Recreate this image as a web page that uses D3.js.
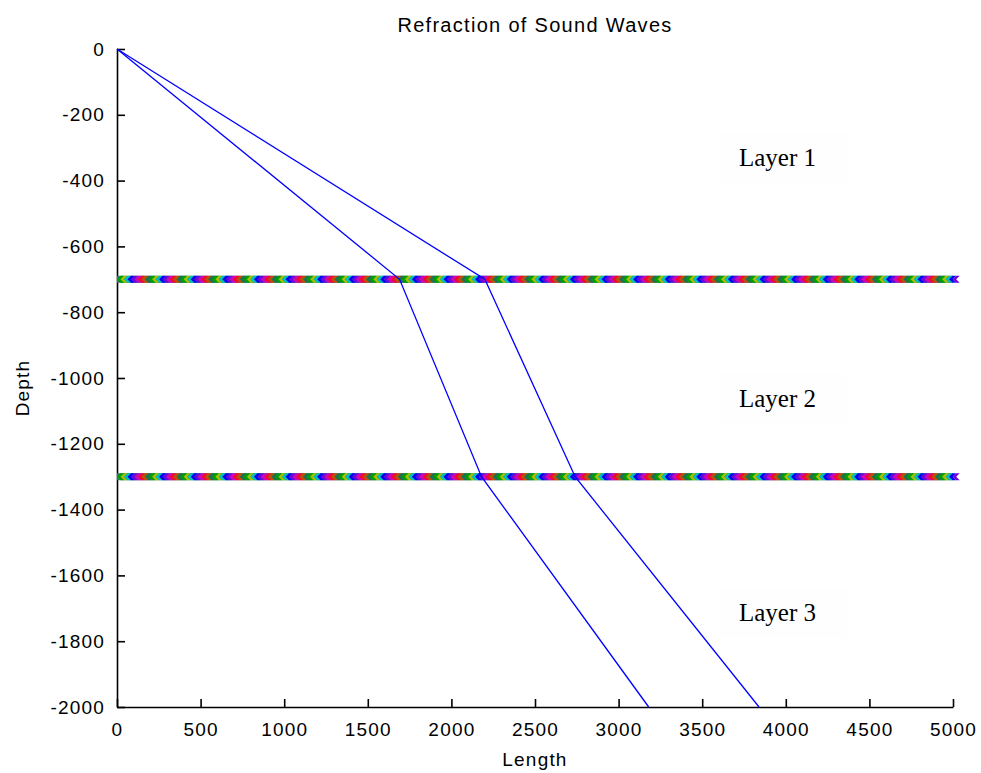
<!DOCTYPE html>
<html>
<head>
<meta charset="utf-8">
<script src="https://cdn.jsdelivr.net/npm/d3@7"></script>
<style>
  html, body { margin: 0; padding: 0; background: #fff; }
  svg { display: block; }
  .tick text { font-family: "Liberation Sans", Arial, sans-serif; font-size: 19px; letter-spacing: 1.2px; fill: #000; }
</style>
</head>
<body>
<svg id="chart" width="981" height="773"></svg>
<script>
// ---- data ----
const title = "Refraction of Sound Waves";
const xLabel = "Length";
const yLabel = "Depth";
const xTicks = [0, 500, 1000, 1500, 2000, 2500, 3000, 3500, 4000, 4500, 5000];
const yTicks = [0, -200, -400, -600, -800, -1000, -1200, -1400, -1600, -1800, -2000];
const layerDepths = [-700, -1300];
// ray paths: [length, depth]
const ray1 = [[0, 0], [2200, -700], [2740, -1300], [3840, -2000]];
const ray2 = [[0, 0], [1690, -700], [2180, -1300], [3180, -2000]];
const layerNames = ["Layer 1", "Layer 2", "Layer 3"];
const layerNameDepths = [-330, -1063, -1715];
const layerNameX = 3720;
const stripeColors = ["#00a000", "#a8c000", "#00c0c0", "#0000ff", "#7000e0", "#d000c0", "#ff0030", "#c05000", "#1f7050"];

// ---- layout ----
const svg = d3.select("#chart");
const x = d3.scaleLinear().domain([0, 5000]).range([117, 953]);
const y = d3.scaleLinear().domain([0, -2000]).range([49, 707]);
const font = '"Liberation Sans", Arial, sans-serif';

// layer label boxes (faint)
layerNames.forEach((name, i) => {
  const cy = y(layerNameDepths[i]);
  svg.append("rect").attr("x", 720).attr("y", cy - 25).attr("width", 127).attr("height", 50)
    .attr("fill", "#fefefe");
  svg.append("text").attr("x", x(layerNameX)).attr("y", cy + 8)
    .attr("font-family", '"Liberation Serif", "Times New Roman", serif')
    .attr("font-size", 25).attr("fill", "#000").text(name);
});

// axes
const xAxis = d3.axisBottom(x).tickValues(xTicks).tickSizeInner(-8).tickSizeOuter(0).tickPadding(12).tickFormat(d3.format("d"));
const yAxis = d3.axisLeft(y).tickValues(yTicks).tickSizeInner(-8).tickSizeOuter(0).tickPadding(12).tickFormat(d => d3.format("d")(d).replace("−", "-"));
const gx = svg.append("g").attr("transform", `translate(0,${y(-2000)})`).call(xAxis);
const gy = svg.append("g").attr("transform", `translate(${x(0)},0)`).call(yAxis);
[gx, gy].forEach(g => {
  g.select(".domain").attr("stroke", "#000").attr("stroke-width", 1.6);
  g.selectAll(".tick line").attr("stroke", "#000").attr("stroke-width", 1.6);
});
gx.selectAll(".tick text").attr("dy", "0.9em");

// layer boundary stripes
const stripeX = d3.range(0, 5000, 21);
layerDepths.forEach(d => {
  const cy = y(d);
  const g = svg.append("g");
  g.append("rect").attr("x", x(0)).attr("y", cy - 3.5).attr("width", x(5000) - x(0)).attr("height", 7).attr("fill", "#208060");
  g.selectAll("path").data(stripeX).join("path")
    .attr("d", xv => {
      const px = x(xv);
      return `M${px + 3.5},${cy - 3.5} L${px},${cy} L${px + 3.5},${cy + 3.5} L${px + 7},${cy + 3.5} L${px + 3.5},${cy} L${px + 7},${cy - 3.5} Z`;
    })
    .attr("fill", (xv, i) => stripeColors[i % stripeColors.length]);
});

// rays
const line = d3.line().x(d => x(d[0])).y(d => y(d[1]));
[ray1, ray2].forEach(r => {
  svg.append("path").datum(r).attr("d", line).attr("fill", "none").attr("stroke", "#0000ff").attr("stroke-width", 1.3);
});

// title & labels
svg.append("text").attr("x", 535).attr("y", 32).attr("text-anchor", "middle")
  .attr("font-family", font).attr("font-size", 20).attr("letter-spacing", 1.3).text(title);
svg.append("text").attr("x", 535).attr("y", 766).attr("text-anchor", "middle")
  .attr("font-family", font).attr("font-size", 19).attr("letter-spacing", 1.2).text(xLabel);
svg.append("text").attr("transform", "translate(29,388) rotate(-90)").attr("text-anchor", "middle")
  .attr("font-family", font).attr("font-size", 19).attr("letter-spacing", 1.2).text(yLabel);
</script>
</body>
</html>
